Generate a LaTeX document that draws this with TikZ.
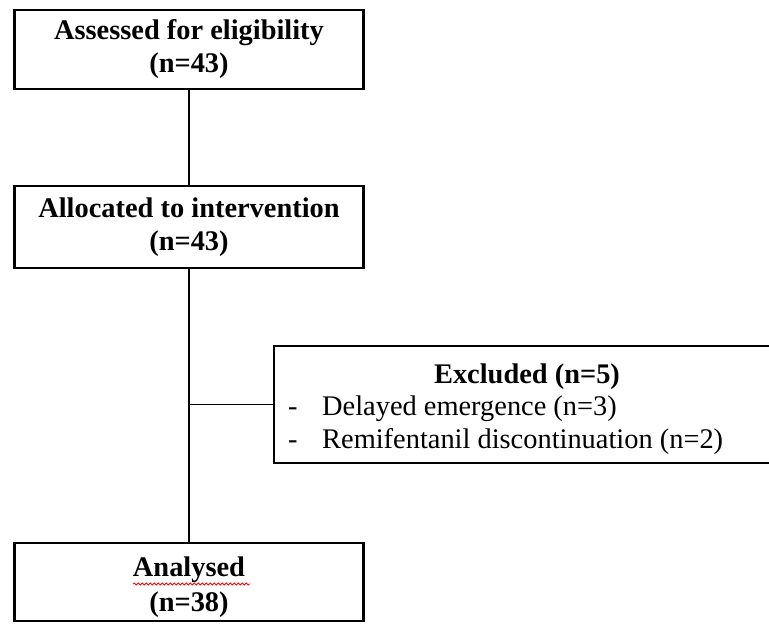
\documentclass[tikz,border=0pt]{standalone}
\usepackage{fontspec}
\setmainfont{Liberation Serif}
\usetikzlibrary{positioning,decorations.pathmorphing}
\tikzset{
	stagebox/.style={draw,line width=2.5pt,minimum width=349pt,inner sep=0pt,align=center,font=\bfseries\fontsize{28.4}{33}\selectfont},
	stagetext/.style={inner sep=0pt,align=center,font=\bfseries\fontsize{28.4}{33}\selectfont},
	exclbox/.style={draw,line width=2.5pt,minimum width=501pt,minimum height=117pt,inner sep=0pt},
	plaintext/.style={inner sep=0pt,font=\fontsize{28.4}{33}\selectfont},
	link/.style={line width=1.8pt}
}
\begin{document}
\begin{tikzpicture}[x=1pt,y=-1pt,line join=miter]
	\useasboundingbox (0,0) rectangle (769,624);
	\clip (0,0) rectangle (769,624);
	% main flow
	\node[stagebox,minimum height=79pt] (assess) at (189,49.5) {Assessed for eligibility\\(n=43)};
	\node[stagebox,minimum height=82pt] (alloc) at (189,227) {Allocated to intervention\\(n=43)};
	\node[stagebox,minimum height=78pt,label={[stagetext,yshift=-5pt]center:{Analysed\\[2pt](n=38)}}] (anal) at (189,582) {};
	% excluded box, runs off the right edge
	\node[exclbox] (excl) at (524.5,404.5) {};
	\node[plaintext,font=\bfseries\fontsize{28.4}{33}\selectfont,anchor=base] (excltitle) at (527,383) {Excluded (n=5)};
	\foreach \n/\yy/\txt in {a/415/Delayed emergence (n=3),b/448/Remifentanil discontinuation (n=2)}{
		\node[plaintext,anchor=base west] (dash\n) at (288,\yy) {-};
		\node[plaintext,anchor=base west] (item\n) at (322,\yy) {\txt};
	}
	\draw[link] (assess) -- (alloc);
	\draw[link] (alloc) -- (anal);
	\draw[link] (alloc.south |- excl.west) -- (excl.west);
	% spell-check squiggle
	\draw[red,line width=0.8pt,decorate,decoration={snake,amplitude=1pt,segment length=4pt}] (133,584) -- (250,584);
\end{tikzpicture}
\end{document}
